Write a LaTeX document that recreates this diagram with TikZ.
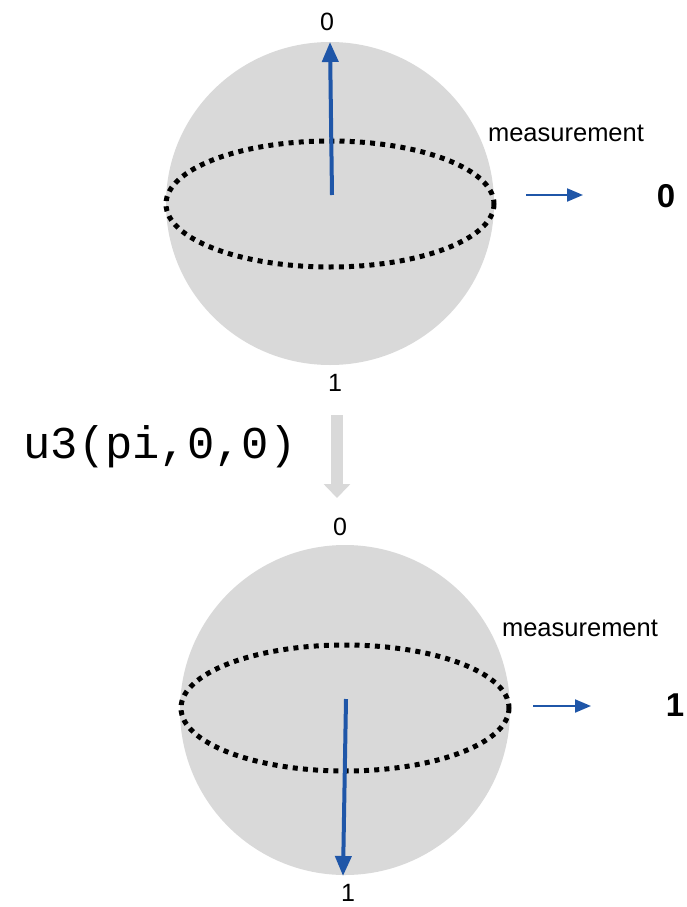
\documentclass[tikz,border=0pt]{standalone}
\usepackage{fontspec}
\setmainfont{Liberation Sans}
\newfontfamily\monofont{Liberation Mono}
\usetikzlibrary{arrows.meta}
\definecolor{spheregray}{RGB}{217,217,217}
\definecolor{qblue}{RGB}{31,86,168}
\tikzset{
  sphere/.style={fill=spheregray, draw=none},
  equator/.style={draw=black, line width=5pt, dash pattern=on 5pt off 5.2pt},
  statearrow/.style={draw=qblue, line width=4pt, -{Triangle[length=20pt,width=16pt]}},
  measarrow/.style={draw=qblue, line width=2pt, -{Triangle[length=16pt,width=13pt]}},
  pole/.style={font=\fontsize{25}{25}\selectfont, inner sep=0pt},
  measlabel/.style={font=\fontsize{25.5}{26}\selectfont, inner sep=0pt},
  result/.style={font=\fontsize{33}{33}\selectfont\bfseries, inner sep=0pt},
  gatelabel/.style={font=\monofont\fontsize{45.5}{46}\selectfont, inner sep=0pt},
  gatearrow/.style={draw=spheregray, line width=12pt, -{Triangle[length=14pt,width=26pt]}}
}
\begin{document}
\begin{tikzpicture}[x=1pt,y=-1pt]
\useasboundingbox (0,0) rectangle (687,907);
% top sphere
\fill[sphere] (330,203.5) ellipse [x radius=164, y radius=161.5];
\draw[equator] (330,204) ellipse [x radius=164, y radius=63];
\coordinate (tc) at (332,195);
\coordinate (tn) at (330,42);
\draw[statearrow] (tc) -- (tn);
\node[pole] (t0) at (327,22) {0};
\node[pole] (t1) at (335,383) {1};
\node[measlabel] (tm) at (566,133) {measurement};
\coordinate (ta1) at (526,195);
\coordinate (ta2) at (583,195);
\draw[measarrow] (ta1) -- (ta2);
\node[result] (tr) at (666,196) {0};
% gate
\coordinate (g1) at (337,415);
\coordinate (g2) at (337,498);
\draw[gatearrow] (g1) -- (g2);
\node[gatelabel] (gl) at (160,447) {u3(pi,0,0)};
% bottom sphere
\fill[sphere] (345,710) ellipse [x radius=165, y radius=165];
\draw[equator] (345,708) ellipse [x radius=164, y radius=63];
\coordinate (bc) at (346,699);
\coordinate (bs) at (343,876);
\draw[statearrow] (bc) -- (bs);
\node[pole] (b0) at (340,527) {0};
\node[pole] (b1) at (348,893) {1};
\node[measlabel] (bm) at (580,628) {measurement};
\coordinate (ba1) at (533,706);
\coordinate (ba2) at (591,706);
\draw[measarrow] (ba1) -- (ba2);
\node[result] (br) at (675,705) {1};
\end{tikzpicture}
\end{document}
